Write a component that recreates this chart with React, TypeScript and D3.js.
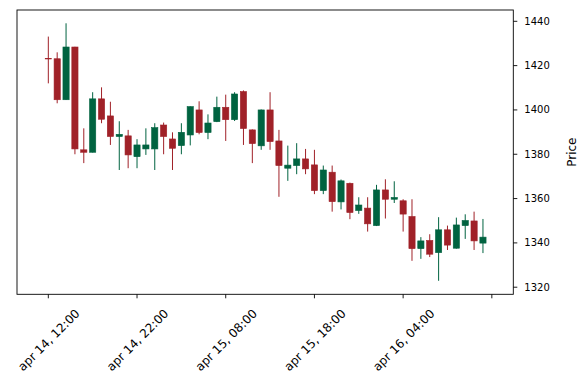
import React from "react";
import * as d3 from "d3";

const opens = [1423.2,1423.1,1404.6,1428.4,1382.0,1380.9,1405.0,1397.3,1388.0,1388.3,1378.9,1382.4,1382.4,1393.2,1386.9,1383.9,1388.7,1400.0,1389.8,1394.7,1401.2,1395.6,1408.3,1391.0,1383.8,1400.0,1386.0,1373.7,1374.9,1377.9,1375.2,1363.6,1371.9,1358.5,1366.9,1354.6,1355.7,1347.8,1363.9,1359.7,1359.0,1351.9,1337.4,1341.1,1335.6,1345.9,1337.6,1347.8,1349.9,1339.9];
const highs = [1433.1,1426.0,1439.1,1428.5,1391.7,1408.0,1410.2,1403.7,1394.9,1391.0,1386.8,1391.7,1394.0,1394.3,1389.9,1394.0,1401.6,1403.9,1398.0,1406.0,1406.9,1408.0,1408.8,1391.2,1400.2,1408.0,1391.0,1383.9,1385.0,1382.4,1382.0,1374.9,1374.9,1368.6,1367.2,1360.6,1360.6,1366.2,1368.7,1367.8,1359.7,1359.7,1342.6,1343.9,1351.6,1347.8,1351.4,1352.9,1354.1,1350.8];
const lows = [1412.0,1403.0,1404.5,1380.0,1376.0,1380.8,1394.0,1384.2,1372.9,1373.7,1373.7,1379.7,1372.9,1380.0,1372.9,1380.0,1384.0,1389.0,1386.8,1394.5,1386.0,1395.0,1384.2,1376.0,1382.0,1382.0,1360.8,1368.0,1371.0,1371.0,1362.0,1362.0,1354.1,1355.1,1350.7,1353.1,1345.1,1347.6,1351.0,1358.0,1345.1,1331.9,1332.8,1333.6,1322.9,1336.8,1337.4,1341.8,1336.8,1335.4];
const closes = [1423.0,1404.6,1428.4,1382.4,1380.9,1405.0,1395.8,1388.0,1389.0,1379.7,1384.2,1384.2,1392.0,1388.0,1382.7,1389.9,1401.5,1389.8,1394.1,1401.2,1395.6,1407.2,1391.6,1384.8,1400.0,1385.7,1374.9,1375.1,1377.9,1373.4,1363.6,1372.9,1358.6,1368.0,1353.7,1357.1,1348.6,1363.9,1359.7,1360.5,1353.0,1337.4,1340.9,1334.9,1345.9,1339.0,1348.1,1350.1,1340.9,1342.6];

const xTickIdx = [0, 10, 20, 30, 40, 50];
const xTickLabels = ["apr 14, 12:00", "apr 14, 22:00", "apr 15, 08:00", "apr 15, 18:00", "apr 16, 04:00", ""];
const yTicks = [1320, 1340, 1360, 1380, 1400, 1420, 1440];

const UP = "#006340";
const DOWN = "#a02128";

export default function App() {
  const W = 588, H = 390;
  const left = 17, right = 513.3, top = 10, bottom = 294.3;
  const x = d3.scaleLinear().domain([-3.53, 52.42]).range([left, right]);
  const y = d3.scaleLinear().domain([1316.8, 1445.1]).range([bottom, top]);
  const step = x(1) - x(0);
  const bw = step * 0.7;
  const font = "DejaVu Sans, sans-serif";

  return (
    <svg width={W} height={H} style={{ position: "absolute", left: 0, top: 0, background: "#fff" }}>
      <rect x={0} y={0} width={W} height={H} fill="#fff" />
      <g>
        {opens.map((o, i) => {
          const c = closes[i];
          const col = c >= o ? UP : DOWN;
          const cx = x(i);
          return (
            <line key={"w" + i} x1={cx} x2={cx} y1={y(highs[i])} y2={y(lows[i])} stroke={col} strokeWidth={1} />
          );
        })}
        {opens.map((o, i) => {
          const c = closes[i];
          const col = c >= o ? UP : DOWN;
          const cx = x(i);
          const yt = y(Math.max(o, c));
          const yb = y(Math.min(o, c));
          return (
            <rect key={"b" + i} x={cx - bw / 2} y={yt} width={bw} height={Math.max(yb - yt, 0.3)} fill={col} stroke={col} strokeWidth={0.6} />
          );
        })}
      </g>
      <rect x={left} y={top} width={right - left} height={bottom - top} fill="none" stroke="#000" strokeWidth={0.9} />
      {yTicks.map((t) => (
        <g key={"y" + t}>
          <line x1={right} x2={right + 4} y1={y(t)} y2={y(t)} stroke="#000" strokeWidth={0.9} />
          <text x={right + 11} y={y(t)} dy="0.35em" fontSize={10} fontFamily={font} fill="#000">{t}</text>
        </g>
      ))}
      <text transform={`translate(${571.5},${(top + bottom) / 2}) rotate(-90)`} textAnchor="middle" dy="0.35em" fontSize={12} fontFamily={font} fill="#000">Price</text>
      {xTickIdx.map((t, k) => (
        <g key={"x" + t}>
          <line x1={x(t)} x2={x(t)} y1={bottom} y2={bottom + 4} stroke="#000" strokeWidth={0.9} />
          {xTickLabels[k] && (
            <text transform={`translate(${x(t) + 0.5},${340}) rotate(-45)`} textAnchor="middle" dy="0.35em" fontSize={12} fontFamily={font} fill="#000">{xTickLabels[k]}</text>
          )}
        </g>
      ))}
    </svg>
  );
}
